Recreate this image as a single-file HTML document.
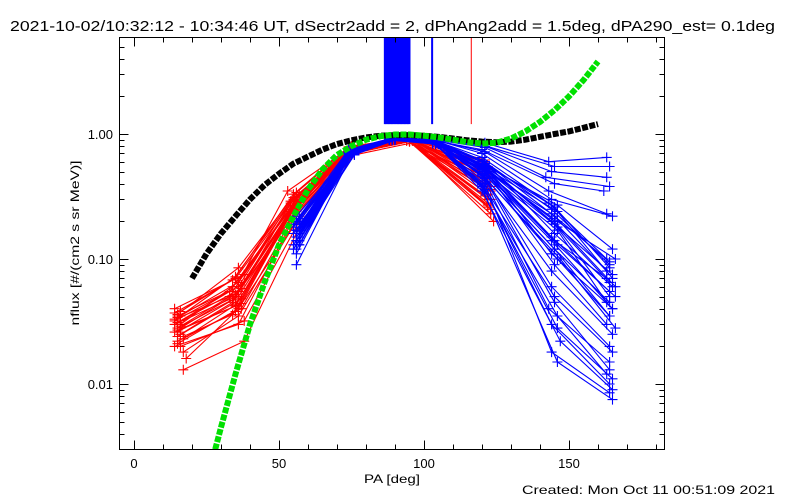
<!DOCTYPE html>
<html><head><meta charset="utf-8"><style>
body{margin:0;background:#fff;}
svg{display:block;font-family:"Liberation Sans","DejaVu Sans",sans-serif;}
</style></head><body>
<svg id="chart" width="800" height="500" viewBox="0 0 800 500" xmlns="http://www.w3.org/2000/svg">
<rect width="800" height="500" fill="#fff"/>
<text x="10" y="31" font-size="14.5" fill="#000" textLength="765" lengthAdjust="spacingAndGlyphs">2021-10-02/10:32:12 - 10:34:46 UT, dSectr2add = 2, dPhAng2add = 1.5deg, dPA290_est=  0.1deg</text>
<text transform="translate(79,243) rotate(-90)" text-anchor="middle" font-size="12" fill="#000" textLength="165" lengthAdjust="spacingAndGlyphs">nflux [#/(cm2 s sr MeV)]</text>
<text x="392" y="483" text-anchor="middle" font-size="12" fill="#000" textLength="56" lengthAdjust="spacingAndGlyphs">PA [deg]</text>
<text x="522" y="494" font-size="12" fill="#000" textLength="253" lengthAdjust="spacingAndGlyphs">Created: Mon Oct 11 00:51:09 2021</text>
<defs><clipPath id="pc"><rect x="120" y="38" width="544" height="411"/></clipPath></defs>
<g id="plot" clip-path="url(#pc)"></g>
<g id="axes"></g>
</svg>
<script>
const xTicks = [0, 50, 100, 150];
const xTickLabels = ["0", "50", "100", "150"];
const yTicks = [0.01, 0.1, 1];
const yTickLabels = ["0.01", "0.10", "1.00"];
const blackPA = [20,25,30,35,40,45,50,55,60,65,70,75,80,85,90,95,100,105,110,115,120,125,130,135,140,145,150,155,160];
const blackFlux = [0.07,0.11,0.16,0.22,0.3,0.39,0.48,0.58,0.66,0.75,0.83,0.89,0.94,0.97,0.98,0.98,0.97,0.95,0.92,0.89,0.87,0.86,0.87,0.9,0.95,1.0,1.05,1.12,1.2];
const greenPA = [28,30,35,40,45,50,55,60,65,70,75,80,85,90,95,100,105,110,115,120,125,130,135,140,145,150,155,160];
const greenFlux = [0.003,0.0045,0.012,0.03,0.065,0.13,0.22,0.36,0.52,0.68,0.8,0.9,0.96,0.99,0.99,0.97,0.94,0.9,0.86,0.84,0.85,0.92,1.05,1.25,1.55,2.0,2.7,3.8];
const redTraces = [
[[15,.035],[36,.06],[55,.3],[75,.78],[95,.92],[122,.5]],
[[14,.03],[35,.05],[56,.28],[76,.75],[96,.9],[121,.45]],
[[16,.025],[34,.045],[54,.25],[74,.72],[94,.88],[123,.35]],
[[15,.022],[37,.04],[55,.22],[75,.7],[95,.87],[122,.3]],
[[17,.018],[36,.035],[56,.2],[76,.68],[97,.86],[123,.25]],
[[14,.04],[38,.075],[57,.33],[77,.8],[96,.93],[120,.6]],
[[16,.032],[33,.055],[55,.27],[75,.76],[95,.91],[124,.2]],
[[15,.027],[35,.042],[54,.24],[74,.74],[94,.9],[122,.55]],
[[17,.013],[38,.022],[57,.18],[76,.7],[95,.88],[121,.4]],
[[14,.02],[36,.03],[55,.21],[75,.72],[96,.89],[122,.33]],
[[16,.03],[34,.06],[56,.3],[75,.77],[95,.9],[121,.48]],
[[15,.024],[37,.048],[55,.26],[76,.73],[94,.89],[123,.38]],
[[18,.016],[35,.038],[54,.23],[74,.71],[95,.88],[122,.28]],
[[15,.034],[36,.065],[53,.35],[75,.79],[95,.92],[120,.58]],
[[16,.028],[35,.052],[56,.27],[75,.75],[96,.9],[121,.42]],
[[14,.026],[37,.044],[55,.25],[75,.74],[95,.89],[123,.3]],
[[16,.038],[34,.068],[55,.31],[76,.78],[94,.91],[122,.52]],
[[15,.021],[36,.04],[57,.22],[74,.7],[95,.87],[122,.26]],
[[15,.036],[36,.085],[56,.34],[75,.8],[95,.93],[121,.62]],
[[14,.033],[33,.05],[54,.29],[75,.77],[95,.91],[122,.44]],
[[16,.029],[36,.055],[55,.26],[76,.74],[96,.9],[123,.36]],
[[15,.026],[34,.047],[56,.24],[74,.72],[94,.89],[121,.32]],
[[17,.023],[35,.043],[55,.23],[75,.71],[95,.88],[122,.27]],
[[15,.031],[37,.058],[54,.28],[76,.76],[95,.9],[120,.5]],
[[14,.037],[35,.07],[56,.32],[75,.79],[96,.92],[121,.56]],
[[16,.02],[38,.032],[57,.2],[74,.69],[95,.87],[123,.23]],
[[15,.028],[36,.05],[55,.25],[75,.74],[94,.89],[122,.42]],
[[17,.024],[34,.036],[53,.22],[76,.71],[96,.88],[121,.37]],
[[14,.032],[37,.062],[56,.29],[75,.77],[95,.91],[122,.47]],
[[16,.035],[35,.072],[55,.33],[74,.79],[94,.92],[120,.53]]
];
const blueTraces = [
[[56,.2],[75,.75],[90,.93],[105,.9],[121,.85],[143,.6],[163,.65]],
[[57,.18],[74,.74],[89,.92],[104,.9],[120,.82],[145,.55],[164,.55]],
[[56,.22],[76,.76],[90,.93],[103,.9],[121,.8],[144,.5],[163,.45]],
[[57,.15],[75,.72],[88,.92],[105,.89],[121,.78],[142,.45],[164,.38]],
[[56,.17],[75,.73],[90,.92],[104,.88],[120,.75],[145,.4],[162,.35]],
[[55,.19],[74,.75],[89,.93],[103,.9],[121,.72],[143,.35],[163,.23]],
[[57,.16],[75,.73],[90,.92],[105,.88],[120,.7],[144,.3],[165,.22]],
[[56,.2],[75,.74],[89,.92],[104,.88],[120,.65],[143,.28],[163,.1]],
[[57,.17],[75,.72],[90,.91],[105,.87],[121,.6],[144,.25],[164,.09]],
[[56,.14],[74,.7],[88,.91],[103,.87],[120,.62],[145,.22],[163,.08]],
[[57,.21],[76,.75],[90,.92],[104,.88],[121,.58],[144,.2],[165,.075]],
[[56,.16],[75,.72],[89,.91],[105,.86],[120,.55],[146,.18],[164,.065]],
[[55,.18],[74,.73],[90,.92],[104,.87],[121,.6],[145,.16],[165,.06]],
[[57,.13],[75,.7],[88,.9],[103,.86],[120,.57],[144,.15],[164,.055]],
[[56,.2],[76,.74],[90,.92],[105,.87],[121,.53],[146,.13],[166,.05]],
[[57,.15],[75,.71],[89,.91],[104,.86],[120,.5],[145,.12],[164,.045]],
[[56,.17],[74,.72],[90,.91],[103,.86],[121,.55],[144,.11],[165,.04]],
[[55,.12],[75,.69],[88,.9],[104,.85],[120,.48],[146,.1],[164,.035]],
[[57,.19],[76,.73],[90,.92],[105,.86],[121,.52],[145,.09],[163,.03]],
[[56,.14],[75,.7],[89,.91],[104,.85],[120,.46],[144,.08],[165,.025]],
[[57,.16],[74,.71],[90,.91],[103,.85],[121,.5],[145,.14],[163,.07]],
[[56,.09],[75,.68],[88,.9],[104,.86],[120,.55],[146,.2],[166,.1]],
[[56,.15],[75,.7],[89,.9],[104,.85],[121,.45],[144,.06],[164,.02]],
[[57,.13],[74,.69],[90,.9],[105,.84],[120,.4],[145,.05],[165,.018]],
[[56,.17],[75,.7],[88,.9],[103,.84],[121,.42],[143,.04],[164,.015]],
[[55,.12],[76,.68],[90,.9],[104,.84],[120,.38],[146,.035],[163,.012]],
[[57,.14],[75,.69],[89,.9],[105,.83],[121,.36],[144,.03],[164,.01]],
[[56,.11],[74,.67],[90,.89],[104,.83],[120,.35],[147,.022],[165,.009]],
[[57,.16],[75,.7],[88,.9],[103,.84],[121,.4],[144,.018],[164,.0085]],
[[56,.13],[75,.68],[89,.89],[104,.83],[120,.37],[146,.015],[165,.0075]],
[[57,.18],[75,.72],[90,.91],[104,.87],[121,.58],[145,.26],[164,.085]],
[[56,.15],[74,.71],[89,.91],[105,.86],[120,.56],[146,.24],[165,.07]],
[[55,.16],[76,.73],[88,.91],[103,.87],[121,.54],[144,.21],[166,.06]],
[[57,.2],[75,.74],[90,.92],[104,.87],[120,.6],[145,.19],[164,.05]],
[[56,.12],[75,.7],[89,.9],[105,.86],[121,.5],[146,.17],[163,.045]],
[[57,.14],[74,.71],[90,.91],[103,.86],[120,.52],[144,.14],[165,.04]],
[[56,.19],[76,.73],[88,.91],[104,.86],[121,.48],[145,.12],[164,.035]],
[[55,.13],[75,.69],[90,.9],[105,.85],[120,.47],[147,.1],[166,.028]],
[[57,.17],[75,.72],[89,.91],[104,.86],[121,.56],[146,.27],[165,.12]],
[[56,.16],[74,.71],[90,.91],[103,.85],[120,.53],[144,.23],[164,.095]],
[[57,.15],[75,.7],[88,.9],[104,.85],[121,.44],[145,.045],[164,.013]],
[[56,.14],[76,.69],[90,.9],[105,.84],[120,.39],[146,.028],[165,.011]]
];
const blueSpikePA = [86.5,87,87.5,88,88.5,89,89.5,90,90.5,91,91.5,92,92.5,93,93.5,94,94.5,95,102.8];
const redSpikePA = [116.3];
const spikeBaseFlux = 1.2;

const NS = "http://www.w3.org/2000/svg";
const X0 = 134, XS = 2.9, Y1 = 134, DEC = 125;
function xs(pa){ return X0 + pa * XS; }
function ys(f){ return Y1 - DEC * Math.log10(f); }
function mk(tag, attrs, parent){
  const e = document.createElementNS(NS, tag);
  for (const k in attrs) e.setAttribute(k, attrs[k]);
  parent.appendChild(e);
  return e;
}
const plot = document.getElementById('plot');
const axes = document.getElementById('axes');

function drawTrace(tr, color, name){
  const g = mk('g', {}, plot);
  
  
  const pts = tr.map(p => xs(p[0]).toFixed(1) + ',' + ys(p[1]).toFixed(1)).join(' ');
  mk('polyline', {points: pts, fill: 'none', stroke: color, 'stroke-width': 1.1}, g);
  let d = '';
  tr.forEach(p => { const x = xs(p[0]), y = ys(p[1]);
    d += `M${(x-5).toFixed(1)},${y.toFixed(1)}h10M${x.toFixed(1)},${(y-5).toFixed(1)}v10`; });
  mk('path', {d: d, stroke: color, 'stroke-width': 1.1, fill: 'none'}, g);
}
redTraces.forEach((tr, i) => drawTrace(tr, '#ff0000', 'red-trace-' + i));
blueTraces.forEach((tr, i) => drawTrace(tr, '#0000ff', 'blue-trace-' + i));

blueSpikePA.forEach(pa => {
  const l = mk('line', {x1: xs(pa), x2: xs(pa), y1: 30, y2: ys(spikeBaseFlux), stroke: '#0000ff', 'stroke-width': 2}, plot);
  
  
});
redSpikePA.forEach(pa => {
  const l = mk('line', {x1: xs(pa), x2: xs(pa), y1: 30, y2: ys(spikeBaseFlux), stroke: '#ff0000', 'stroke-width': 1}, plot);
  
  
});

function drawDots(paArr, fArr, color, name){
  const pts = paArr.map((p, i) => xs(p).toFixed(1) + ',' + ys(fArr[i]).toFixed(1)).join(' ');
  const l = mk('polyline', {points: pts, fill: 'none', stroke: color, 'stroke-width': 6, 'stroke-dasharray': '6 1.5', 'stroke-linecap': 'butt'}, plot);
  
  
}
drawDots(blackPA, blackFlux, '#000000', 'black-model-curve');
drawDots(greenPA, greenFlux, '#00e000', 'green-model-curve');

const L = 119.5, R = 664.5, T = 37.5, B = 449.5;
const box = mk('rect', {x: L, y: T, width: R - L, height: B - T, fill: 'none', stroke: '#000', 'stroke-width': 1}, axes);


let td = '';
for (let v = 0; v <= 180; v += 10) {
  const x = Math.round(xs(v)) + 0.5, len = (v % 50 === 0) ? 9 : 5;
  td += `M${x},${B}v${-len}M${x},${T}v${len}`;
}
for (let e = -3; e <= 0; e++) for (let m = 1; m <= 9; m++) {
  const v = m * Math.pow(10, e); const y = Math.round(ys(v)) + 0.5;
  if (y < T || y > B) continue;
  const len = m === 1 ? 9 : 5;
  td += `M${L},${y}h${len}M${R},${y}h${-len}`;
}
mk('path', {d: td, stroke: '#000', 'stroke-width': 1, fill: 'none'}, axes);
xTicks.forEach((v, i) => {
  const t = mk('text', {x: xs(v), y: 468, 'text-anchor': 'middle', 'font-size': 13, fill: '#000'}, axes);
  t.textContent = xTickLabels[i];
  
  
});
yTicks.forEach((v, i) => {
  const t = mk('text', {x: 113, y: ys(v) + 5, 'text-anchor': 'end', 'font-size': 13, fill: '#000'}, axes);
  t.textContent = yTickLabels[i];
  
  
});
</script>
</body></html>
